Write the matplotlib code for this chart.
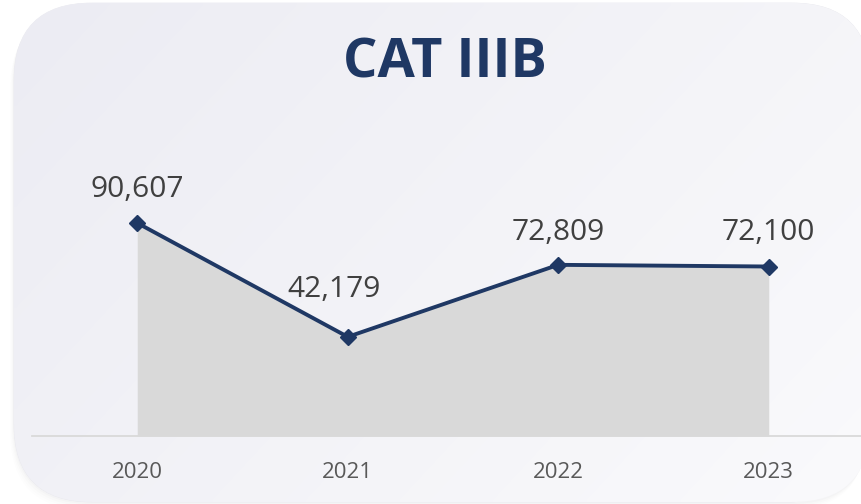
import numpy as np
import matplotlib
matplotlib.use('Agg')
import matplotlib.pyplot as plt
from matplotlib.patches import FancyBboxPatch

# Chart data
years = ['2020', '2021', '2022', '2023']
values = [90607, 42179, 72809, 72100]
title = 'CAT IIIB'

# Label offsets from each point (points)
label_dx = [0, -10, 0, 0]
label_dy = [19, 29, 18, 19]

navy = '#1F3864'
plt.rcParams['font.family'] = ['Open Sans', 'DejaVu Sans']

W, H = 861, 504
fig = plt.figure(figsize=(W / 100, H / 100), dpi=100)
fig.patch.set_facecolor('white')

# Background card with gradient and faint shadow
bg = fig.add_axes([0, 0, 1, 1])
bg.set_xlim(0, W)
bg.set_ylim(H, 0)
bg.axis('off')

for k, a in zip(range(1, 5), [0.014, 0.011, 0.008, 0.006]):
    sh = FancyBboxPatch((14 - 1 * k, 3 + 2 * k), 856, 499, boxstyle='round,pad=0,rounding_size=78',
                        facecolor='#30304a', edgecolor='none', alpha=a)
    bg.add_patch(sh)

card = FancyBboxPatch((14, 3), 856, 499, boxstyle='round,pad=0,rounding_size=78',
                      facecolor='none', edgecolor='#e8e8ee', linewidth=0.5)
bg.add_patch(card)
gx, gy = np.meshgrid(np.linspace(0, 1, 200), np.linspace(0, 1, 120))
grad = (gx * 0.65 + gy * 0.35)
c0 = np.array([236, 236, 243]) / 255
c1 = np.array([250, 250, 252]) / 255
img = c0[None, None, :] * (1 - grad[..., None]) + c1[None, None, :] * grad[..., None]
im = bg.imshow(img, extent=(14, 870, 502, 3), aspect='auto', interpolation='bilinear', zorder=1)
im.set_clip_path(card)

fig.text(445 / W, 1 - 77 / H, title, ha='center', va='baseline', fontsize=39,
         fontweight='bold', color=navy)

# Main line/area chart
ax = fig.add_axes([32 / W, 1 - 436 / H, (874 - 32) / W, (436 - 150) / H])
ax.patch.set_alpha(0)
x = np.arange(len(years))
ax.fill_between(x, values, 0, color='#D9D9D9', linewidth=0, zorder=1)
ax.plot(x, values, color=navy, linewidth=2.8, marker='D', markersize=8.5, zorder=3)
for i, v in enumerate(values):
    ax.annotate(f'{v:,}', (i, v), xytext=(label_dx[i], label_dy[i]), textcoords='offset points',
                ha='center', va='baseline', fontsize=21.5, color='#404040')

ax.set_xlim(-0.5, 3.5)
ax.set_ylim(0, 121660)
ax.set_xticks(x)
ax.set_xticklabels(years)
ax.set_yticks([])
for s in ['top', 'left', 'right']:
    ax.spines[s].set_visible(False)
ax.spines['bottom'].set_color('#D9D9D9')
ax.spines['bottom'].set_linewidth(1.3)
ax.tick_params(axis='x', length=0, pad=18.5, labelsize=16, labelcolor='#595959')

fig.savefig('out.png', dpi=100)
